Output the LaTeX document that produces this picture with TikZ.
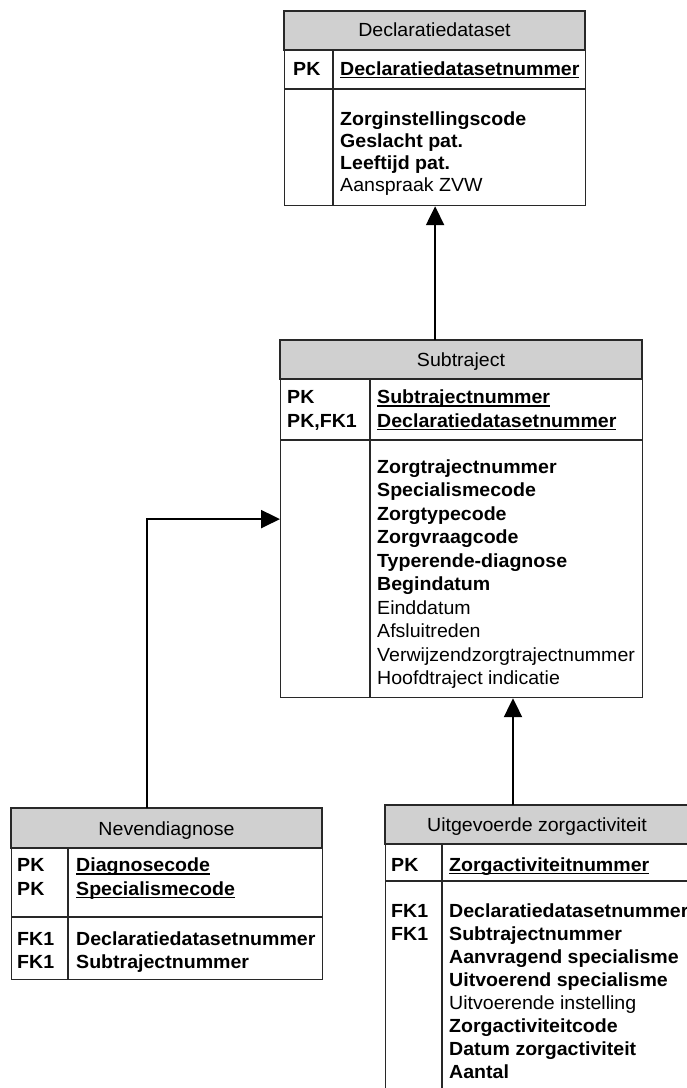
\documentclass[tikz,border=0pt]{standalone}
\usepackage{fontspec}
\setmainfont{Liberation Sans}[FakeStretch=1.03]
\usetikzlibrary{arrows.meta}
\definecolor{hdrgray}{RGB}{208,208,208}
\definecolor{edgegray}{RGB}{40,40,40}
% key attribute: text with a fixed-depth underline
\newcommand\keyname[1]{\setbox0\hbox{#1}\rlap{\rule[-3pt]{\wd0}{1.3pt}}\box0}
\begin{document}
\begin{tikzpicture}[x=1pt,y=-1pt,
  tbl/.style={draw=edgegray,line width=1.2pt,fill=white,anchor=north west,inner sep=0pt},
  hdr/.style={fill=hdrgray,draw=edgegray,line width=1.2pt},
  rule/.style={draw=edgegray,line width=1.2pt},
  txt/.style={anchor=base west,inner sep=0pt,font=\fontsize{19}{22}\selectfont},
  keytxt/.style={txt,font=\fontsize{19}{22}\selectfont\bfseries},
  title/.style={anchor=base,inner sep=0pt,font=\fontsize{19}{22}\selectfont},
  link/.style={draw=black,line width=2.2pt,-{Triangle[length=19pt,width=18pt]}}]
\clip (0,0) rectangle (687,1088);

% ---------- Declaratiedataset ----------
\node[tbl,minimum width=301pt,minimum height=194pt] (decl) at (284,11) {};
\path[hdr] (284,11) rectangle (585,50);
\path[rule] (284,89) -- (585,89) (333,50) -- (333,205);
\node[title] (decl-t) at (434.5,36.5) {Declaratiedataset};
\node[keytxt] (decl-k1) at (293,75) {PK};
\node[txt] (decl-p1) at (340,75) {\bfseries\keyname{Declaratiedatasetnummer}};
\foreach [count=\i] \t in {{\bfseries Zorginstellingscode},{\bfseries Geslacht pat.},
    {\bfseries Leeftijd pat.},{Aanspraak ZVW}}
  \node[txt] (decl-a\i) at (340,{125.5+(\i-1)*22}) {\t};

% ---------- Subtraject ----------
\node[tbl,minimum width=362pt,minimum height=357pt] (sub) at (280,340) {};
\path[hdr] (280,340) rectangle (642,379);
\path[rule] (280,440) -- (642,440) (370,379) -- (370,697);
\node[title] (sub-t) at (461,366.5) {Subtraject};
\node[keytxt] (sub-k1) at (287,403.5) {PK};
\node[keytxt] (sub-k2) at (287,427) {PK,FK1};
\node[txt] (sub-p1) at (377,403.5) {\bfseries\keyname{Subtrajectnummer}};
\node[txt] (sub-p2) at (377,427) {\bfseries\keyname{Declaratiedatasetnummer}};
\foreach [count=\i] \t in {{\bfseries Zorgtrajectnummer},{\bfseries Specialismecode},
    {\bfseries Zorgtypecode},{\bfseries Zorgvraagcode},{\bfseries Typerende-diagnose},
    {\bfseries Begindatum},{Einddatum},{Afsluitreden},{Verwijzendzorgtrajectnummer},
    {Hoofdtraject indicatie}}
  \node[txt] (sub-a\i) at (377,{473+(\i-1)*23.5}) {\t};

% ---------- Nevendiagnose ----------
\node[tbl,minimum width=311pt,minimum height=171pt] (nev) at (11,808) {};
\path[hdr] (11,808) rectangle (322,848);
\path[rule] (11,917) -- (322,917) (68,848) -- (68,979);
\node[title] (nev-t) at (166.5,835) {Nevendiagnose};
\node[keytxt] (nev-k1) at (17,871.5) {PK};
\node[keytxt] (nev-k2) at (17,895) {PK};
\node[keytxt] (nev-k3) at (17,945) {FK1};
\node[keytxt] (nev-k4) at (17,968) {FK1};
\node[txt] (nev-p1) at (76,871.5) {\bfseries\keyname{Diagnosecode}};
\node[txt] (nev-p2) at (76,895) {\bfseries\keyname{Specialismecode}};
\node[txt] (nev-a1) at (76,945) {\bfseries Declaratiedatasetnummer};
\node[txt] (nev-a2) at (76,968) {\bfseries Subtrajectnummer};

% ---------- Uitgevoerde zorgactiviteit ----------
\node[tbl,minimum width=330pt,minimum height=300pt] (uit) at (385,805) {};
\path[hdr] (385,805) rectangle (715,844);
\path[rule] (385,881) -- (715,881) (442,844) -- (442,1105);
\node[title] (uit-t) at (537,831.5) {Uitgevoerde zorgactiviteit};
\node[keytxt] (uit-k1) at (391,871) {PK};
\node[keytxt] (uit-k2) at (391,917) {FK1};
\node[keytxt] (uit-k3) at (391,940) {FK1};
\node[txt] (uit-p1) at (449,871) {\bfseries\keyname{Zorgactiviteitnummer}};
\foreach [count=\i] \t in {{\bfseries Declaratiedatasetnummer},{\bfseries Subtrajectnummer},
    {\bfseries Aanvragend specialisme},{\bfseries Uitvoerend specialisme},
    {Uitvoerende instelling},{\bfseries Zorgactiviteitcode},
    {\bfseries Datum zorgactiviteit},{\bfseries Aantal}}
  \node[txt] (uit-a\i) at (449,{917+(\i-1)*23}) {\t};

% ---------- relationships ----------
\coordinate (uittap) at (513,805);
\draw[link] (decl.south |- sub.north) -- (decl.south);
\draw[link] ([xshift=-20.5pt]nev.north) |- (sub.west);
\draw[link] (uittap) -- (uittap |- sub.south);
\end{tikzpicture}
\end{document}
